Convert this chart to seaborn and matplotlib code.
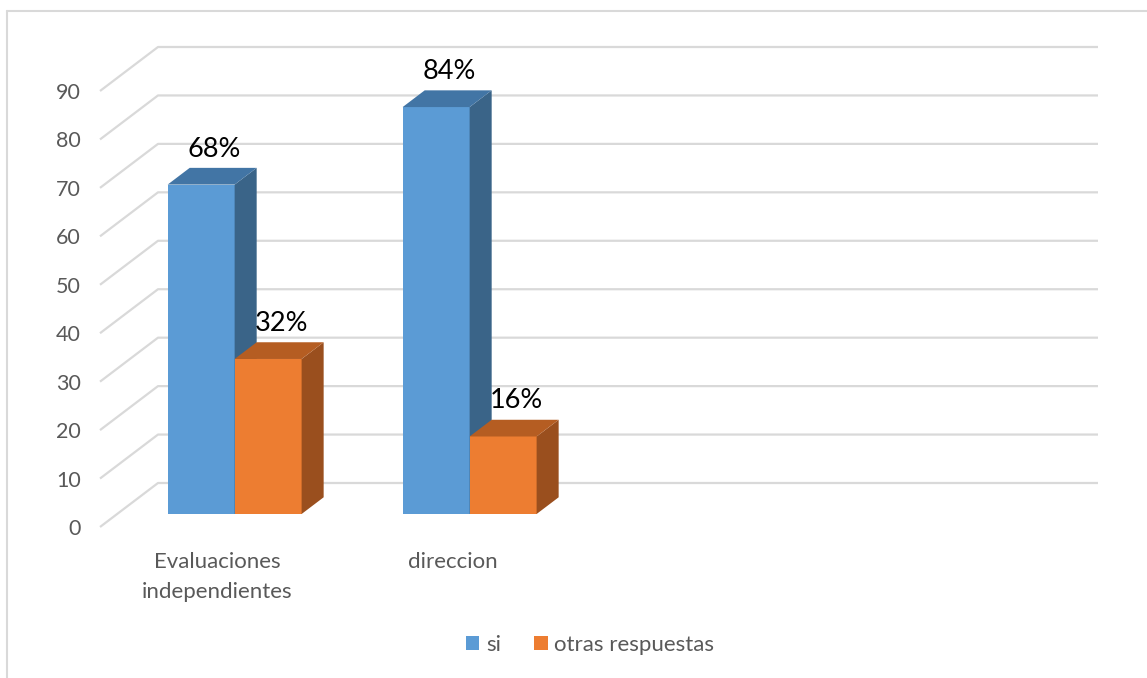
import matplotlib
matplotlib.use("Agg")
import matplotlib.pyplot as plt
from matplotlib.patches import Polygon, Patch
from matplotlib.lines import Line2D
import seaborn as sns
import pandas as pd

# ---- data ----
categories = ["Evaluaciones\nindependientes", "direccion"]
series_names = ["si", "otras respuestas"]
si_values = [68, 84]
otras_values = [32, 16]
y_ticks = [0, 10, 20, 30, 40, 50, 60, 70, 80, 90]
n_slots = 4  # category slots on the axis (two are empty)

front_colors = {"si": "#5B9BD5", "otras respuestas": "#ED7D31"}
side_colors = {"si": "#3A6488", "otras respuestas": "#9A4F1E"}
top_colors = {"si": "#4275A5", "otras respuestas": "#B55D22"}

df = pd.DataFrame({
    "categoria": categories * 2,
    "serie": [series_names[0]] * len(categories) + [series_names[1]] * len(categories),
    "valor": si_values + otras_values,
})

sns.set_style("white")
plt.rcParams["font.family"] = ["Lato", "DejaVu Sans"]

W, H = 1147, 678
fig = plt.figure(figsize=(W / 100, H / 100), dpi=100)

# geometry (pixels)
ax_left_px, ax_right_px = 100, 1098
ax_top_px, ax_bot_px = 48, 527
px_per_cat = 235.0
px_per_unit = 436.0 / 90.0
depth_dx_px, depth_dy_px = 58.0, 44.0
bar_front_frac = 13.0 / 44.0
bar_depth_frac = 0.38

l = ax_left_px / W
b = (H - ax_bot_px) / H
w = (ax_right_px - ax_left_px) / W
h = (ax_bot_px - ax_top_px) / H
xlim = (-0.5, -0.5 + (ax_right_px - ax_left_px) / px_per_cat)
ylim = (0, (ax_bot_px - ax_top_px) / px_per_unit)
Dx = depth_dx_px / px_per_cat
Dy = depth_dy_px / px_per_unit

ax = fig.add_axes([l, b, w, h])
ax.set_xlim(*xlim)
ax.set_ylim(*ylim)
for s in ax.spines.values():
    s.set_visible(False)

grid_c = "#D9D9D9"
x_front_end = n_slots - 0.5
for v in y_ticks:
    ax.plot([-0.5, -0.5 + Dx, x_front_end + Dx], [v, v + Dy, v + Dy],
            color=grid_c, lw=1.6, zorder=1, solid_capstyle="butt", clip_on=False)

ax.set_yticks(y_ticks)
ax.set_yticklabels([str(v) for v in y_ticks])
ax.set_xticks(range(len(categories)))
ax.set_xticklabels(categories, linespacing=1.6)
ax.tick_params(axis="y", length=0, pad=14, labelsize=15.5, labelcolor="#595959")
ax.tick_params(axis="x", length=0, pad=18, labelsize=16, labelcolor="#595959")

# bar axes shifted into depth
sx = bar_front_frac * depth_dx_px / W
sy = bar_front_frac * depth_dy_px / H
ax2 = fig.add_axes([l + sx, b + sy, w, h])
ax2.patch.set_alpha(0)
sns.barplot(data=df, x="categoria", y="valor", hue="serie", order=categories,
            hue_order=series_names, palette=front_colors, width=0.57,
            saturation=1, legend=False, ax=ax2, linewidth=0)
ax2.set_xlim(*xlim)
ax2.set_ylim(*ylim)
ax2.axis("off")

bdx = bar_depth_frac * Dx
bdy = bar_depth_frac * Dy

bars = [p for p in ax2.patches]
order_hue = []
for i, name in enumerate(series_names):
    order_hue += [name] * len(categories)
vals = si_values + otras_values
for p, name, val in zip(bars, order_hue, vals):
    x0 = p.get_x()
    x1 = x0 + p.get_width()
    hh = p.get_height()
    z = 3 + x0
    p.set_zorder(z)
    side = Polygon([(x1, 0), (x1 + bdx, bdy), (x1 + bdx, hh + bdy), (x1, hh)],
                   closed=True, facecolor=side_colors[name], edgecolor="none", zorder=z)
    top = Polygon([(x0, hh), (x1, hh), (x1 + bdx, hh + bdy), (x0 + bdx, hh + bdy)],
                  closed=True, facecolor=top_colors[name], edgecolor="none", zorder=z)
    ax2.add_patch(side)
    ax2.add_patch(top)
    ax2.text((x0 + x1) / 2 + bdx / 2 + 0.01, hh + bdy + 1.3, f"{val}%", ha="center",
             va="bottom", fontsize=19.5, color="black", zorder=20)

handles = [Patch(facecolor=front_colors[n], edgecolor="none") for n in series_names]
fig.legend(handles, series_names, loc="center", bbox_to_anchor=(590 / W, 1 - 645 / H),
           ncol=2, frameon=False, fontsize=16, handlelength=0.6, handleheight=0.6,
           handletextpad=0.3, columnspacing=1.5, labelcolor="#595959")

# chart frame (left and top edges visible)
fig.add_artist(Line2D([7 / W, 7 / W], [0, 1 - 11 / H], color="#D9D9D9", lw=1.5))
fig.add_artist(Line2D([7 / W, 1], [1 - 11 / H, 1 - 11 / H], color="#D9D9D9", lw=1.5))

fig.savefig("out.png", dpi=100, facecolor="white")
